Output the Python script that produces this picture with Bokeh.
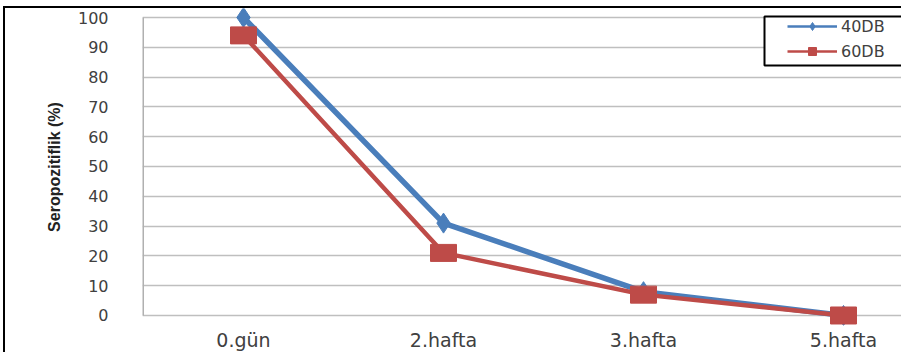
from bokeh.plotting import figure
from bokeh.models import Range1d, FixedTicker, Legend, LegendItem, ColumnDataSource, BoxAnnotation
from bokeh.embed import file_html
from bokeh.resources import INLINE

categories = ["0.gün", "2.hafta", "3.hafta", "5.hafta"]
db40 = [100, 31, 8, 0]
db60 = [94, 21, 7, 0]
y_ticks = [0, 10, 20, 30, 40, 50, 60, 70, 80, 90, 100]

xs = list(range(len(categories)))

x0 = -0.505
p = figure(width=898, height=346, output_backend="svg", toolbar_location=None,
           x_range=Range1d(x0, 3.3), y_range=Range1d(-3.36, 103.02),
           min_border_left=137, min_border_right=0, min_border_top=0, min_border_bottom=29)
p.styles = {"margin-left": "3px", "margin-top": "6px",
            "border-left": "2px solid black", "border-top": "2px solid black"}
p.outline_line_color = None
p.background_fill_color = "white"

blue = "#4a7ebb"
red = "#be4b48"
axis_gray = "#b0b0b0"

# y axis line (only over the value span)
p.segment(x0=[x0], y0=[y_ticks[0]], x1=[x0], y1=[y_ticks[-1]], line_color=axis_gray, line_width=3)

p.line(xs, db40, line_color=blue, line_width=5.5)
p.scatter(xs, db40, marker="diamond", size=20, fill_color=blue, line_color=blue)
p.line(xs, db60, line_color=red, line_width=4.5)
p.rect(xs, db60, width=26, height=17, width_units="screen", height_units="screen",
       fill_color=red, line_color=red)

# legend-only glyphs (no visible data)
nan = float("nan")
empty = ColumnDataSource(dict(x=[nan], y=[nan]))
l40 = p.line("x", "y", source=empty, line_color=blue, line_width=2.5)
s40 = p.scatter("x", "y", source=empty, marker="diamond", size=9, fill_color=blue, line_color=blue)
l60 = p.line("x", "y", source=empty, line_color=red, line_width=2.5)
s60 = p.scatter("x", "y", source=empty, marker="square", size=11, fill_color=red, line_color=red)

box = BoxAnnotation(left=757, right=960, top=6, bottom=55,
                    left_units="canvas", right_units="canvas", top_units="canvas", bottom_units="canvas",
                    fill_color="white", fill_alpha=1, line_color="black", line_width=2, line_alpha=1)
p.add_layout(box)

legend = Legend(items=[LegendItem(label="40DB", renderers=[l40, s40]),
                       LegendItem(label="60DB", renderers=[l60, s60])],
                location=(642, 261), padding=3, spacing=5, glyph_height=20, glyph_width=50,
                label_standoff=4, label_text_font="DejaVu Sans", label_text_font_size="16px",
                label_text_color="#404040", border_line_alpha=0,
                background_fill_alpha=0, label_height=20)
p.add_layout(legend, "center")

p.xaxis.ticker = FixedTicker(ticks=xs)
p.xaxis.major_label_overrides = {i: c for i, c in enumerate(categories)}
p.yaxis.ticker = FixedTicker(ticks=y_ticks)

for ax in (p.xaxis, p.yaxis):
    ax.axis_line_color = None
    ax.major_tick_out = 0
    ax.major_tick_in = 0
    ax.minor_tick_out = 0
    ax.minor_tick_in = 0
    ax.major_label_text_color = "#404040"
    ax.major_label_text_font = "DejaVu Sans"

p.yaxis.major_label_text_font_size = "16px"
p.yaxis.major_label_standoff = 34
p.xaxis.major_label_text_font_size = "19px"
p.xaxis.major_label_standoff = 3

p.yaxis.axis_label = "Seropozitiflik (%)"
p.yaxis.axis_label_text_font = "Liberation Sans"
p.yaxis.axis_label_text_font_style = "bold"
p.yaxis.axis_label_text_font_size = "16px"
p.yaxis.axis_label_text_color = "#222222"
p.yaxis.axis_label_standoff = 12

p.xgrid.grid_line_color = None
p.ygrid.grid_line_color = "#bfbfbf"
p.ygrid.grid_line_width = 1.5

open("out.html", "w").write(file_html(p, INLINE))
